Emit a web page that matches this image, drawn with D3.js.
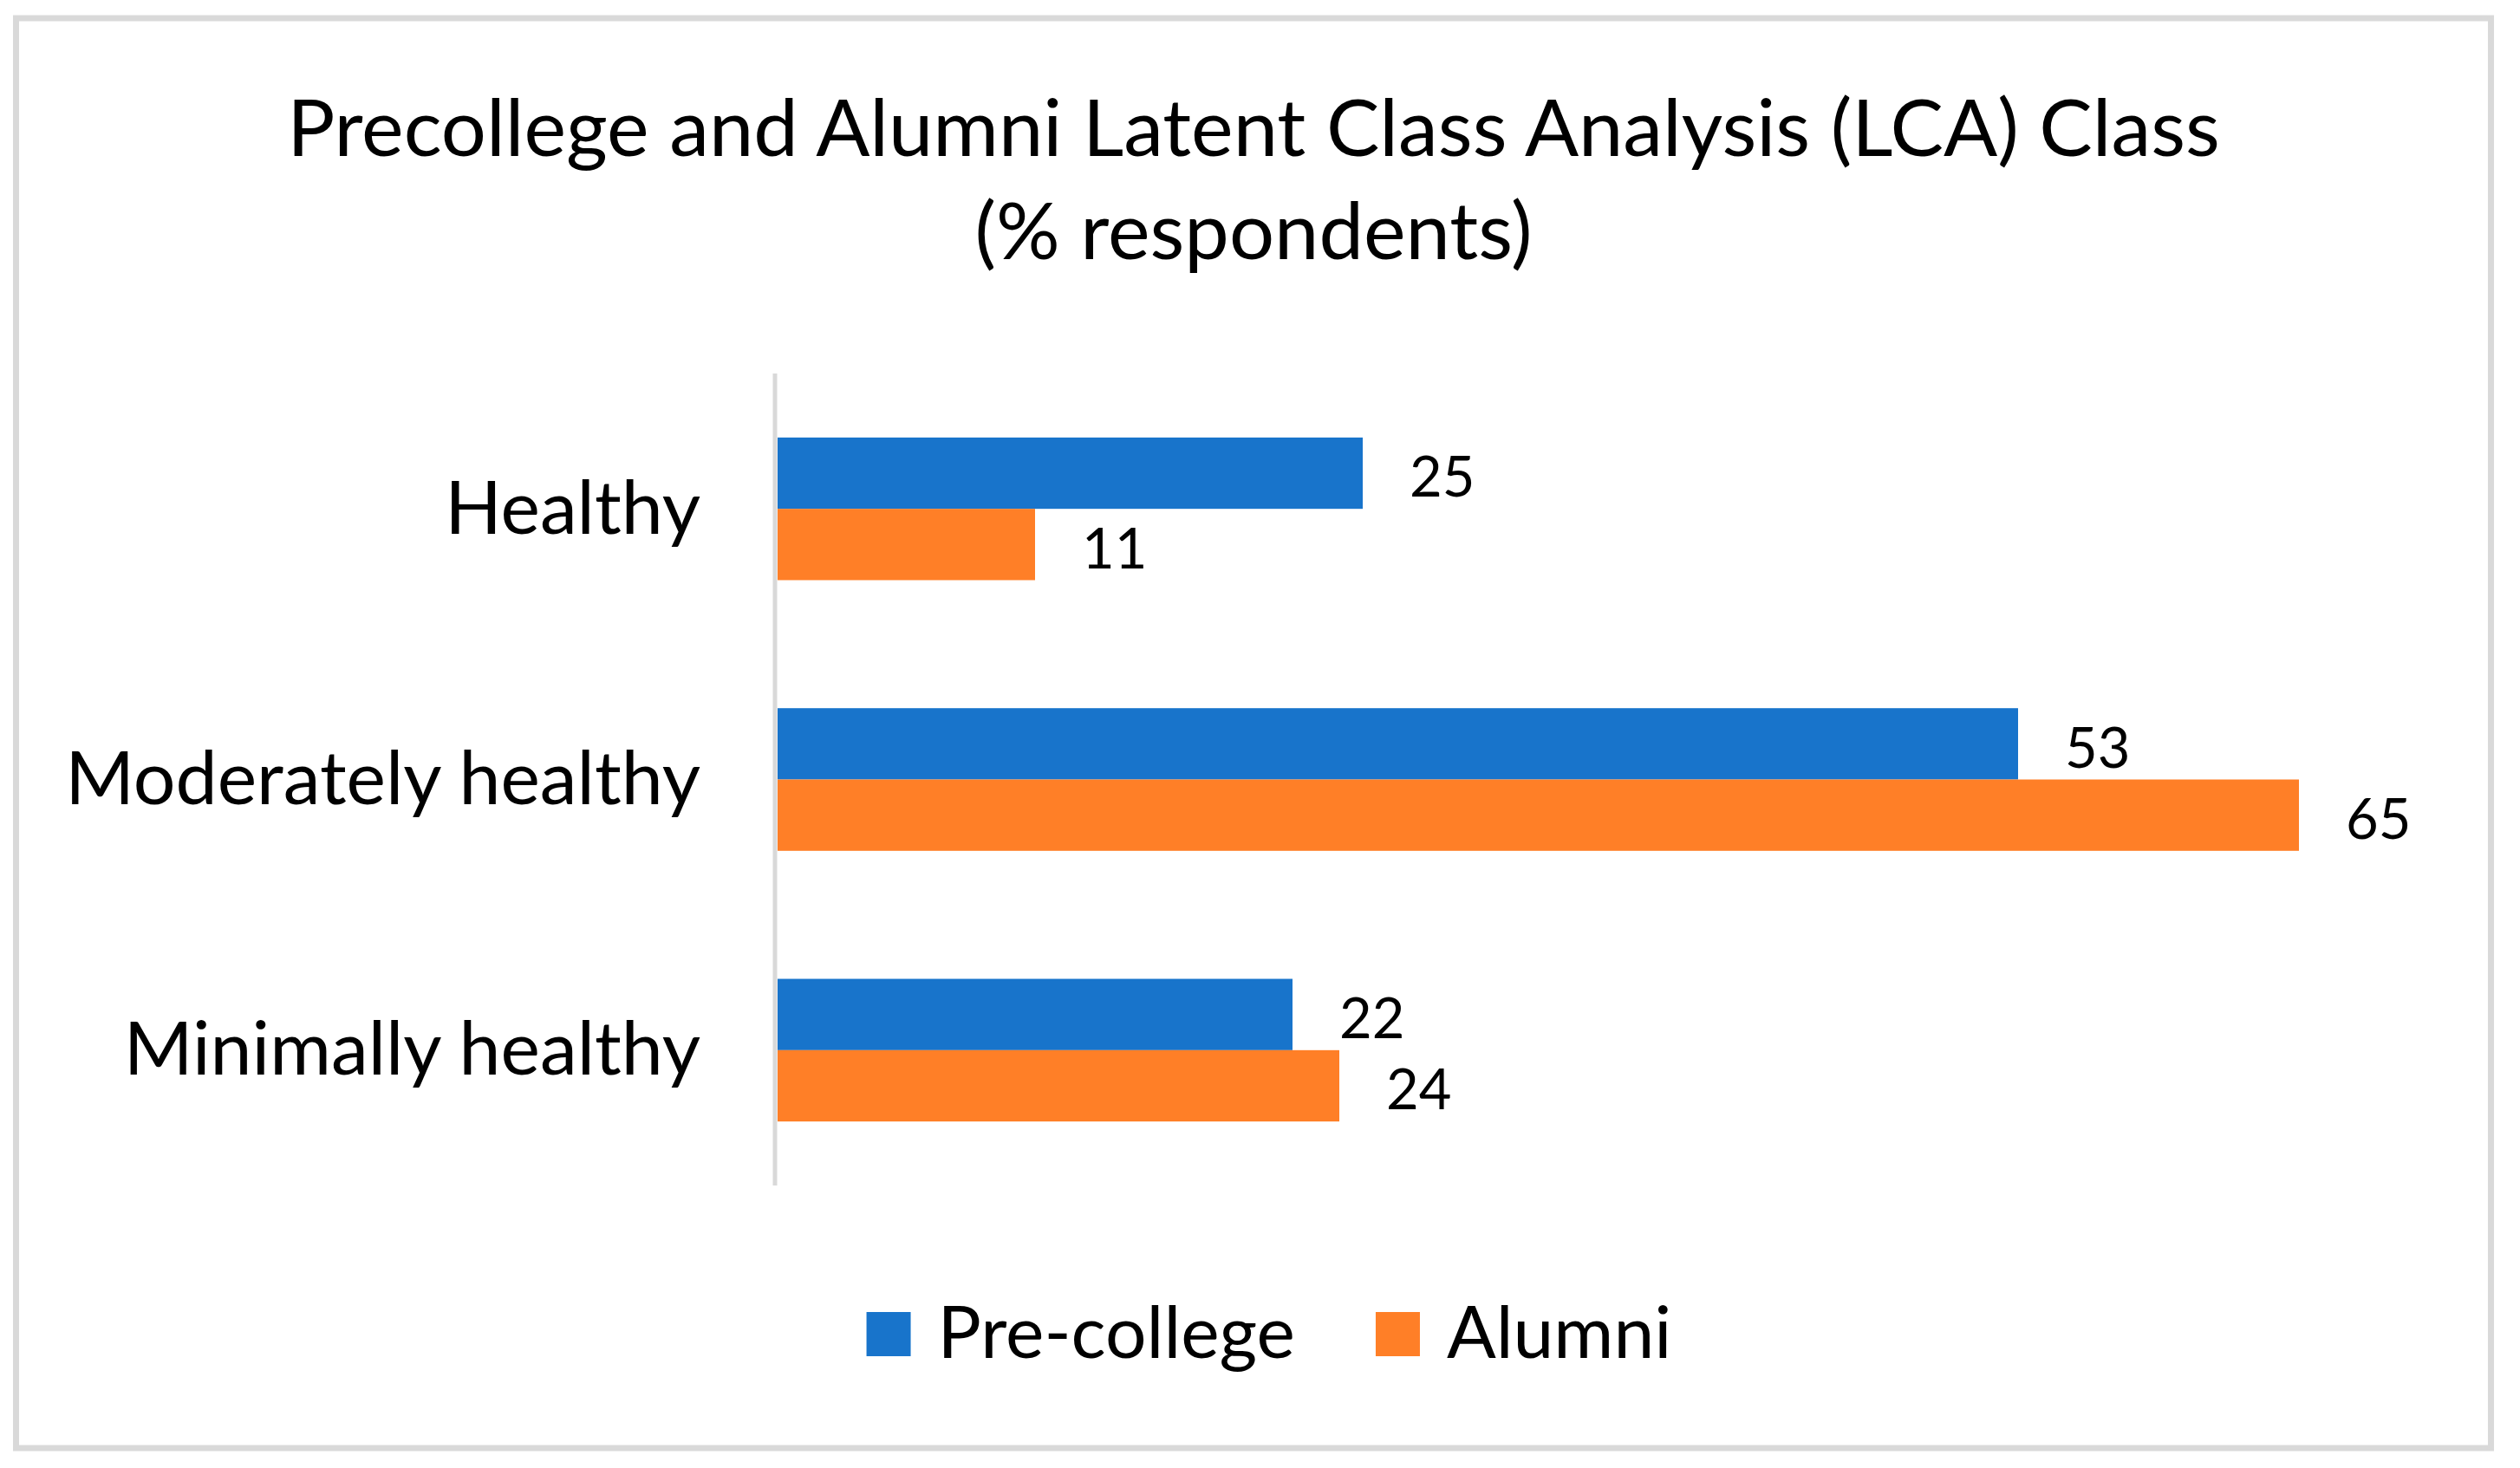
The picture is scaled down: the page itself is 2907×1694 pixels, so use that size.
<!DOCTYPE html>
<html>
<head>
<meta charset="utf-8">
<script src="https://cdn.jsdelivr.net/npm/d3@7"></script>
<style>
  html, body { margin: 0; padding: 0; background: #ffffff; }
  svg { display: block; }
  text { font-family: Lato, "Open Sans", "Noto Sans", sans-serif; fill: #000000; }
</style>
</head>
<body>
<svg id="chart"></svg>
<script>
// ---- data ----
const titleLines = ["Precollege and Alumni Latent Class Analysis (LCA) Class", "(% respondents)"];
const categories = ["Healthy", "Moderately healthy", "Minimally healthy"];
const seriesNames = ["Pre-college", "Alumni"];
const preCollege = [25, 53, 22];
const alumni = [11, 65, 24];
const seriesColors = ["#1874CB", "#FF7F27"];

// ---- layout ----
const W = 2907, H = 1694;
const svg = d3.select("#chart").attr("width", W).attr("height", H);

svg.append("rect")
  .attr("x", 18.5).attr("y", 21)
  .attr("width", 2855).attr("height", 1650)
  .attr("fill", "#ffffff")
  .attr("stroke", "#D9D9D9").attr("stroke-width", 7);

// title
const title = svg.append("text")
  .attr("text-anchor", "middle")
  .attr("font-size", 92);
titleLines.forEach((t, i) => {
  title.append("tspan").attr("x", 1446).attr("y", 180 + i * 119).text(t);
});

const table = categories.map((c, i) => ({ cat: c, values: [preCollege[i], alumni[i]] }));

const x = d3.scaleLinear().domain([0, 70]).range([897, 897 + 70 * 27]);
const y = d3.scaleBand().domain(categories).range([431, 1368])
  .paddingInner(0.473).paddingOuter(0.2365);
const ys = d3.scaleBand().domain(seriesNames).range([0, y.bandwidth()]);

const groups = svg.append("g").selectAll("g")
  .data(table).join("g")
  .attr("transform", d => `translate(0,${y(d.cat)})`);

groups.selectAll("rect")
  .data(d => d.values.map((v, j) => ({ s: seriesNames[j], v, j })))
  .join("rect")
  .attr("x", x(0))
  .attr("y", d => ys(d.s))
  .attr("width", d => x(d.v) - x(0))
  .attr("height", ys.bandwidth())
  .attr("fill", d => seriesColors[d.j]);

groups.selectAll("text.val")
  .data(d => d.values.map((v, j) => ({ s: seriesNames[j], v, j })))
  .join("text")
  .attr("class", "val")
  .attr("x", d => x(d.v) + 54)
  .attr("y", d => ys(d.s) + ys.bandwidth() / 2)
  .attr("dy", "0.42em")
  .attr("font-size", 65)
  .text(d => d.v);

// category axis
const yAxis = d3.axisLeft(y).tickSize(0).tickPadding(86);
const ag = svg.append("g").attr("transform", `translate(894,0)`).call(yAxis);
ag.select(".domain").attr("stroke", "#D9D9D9").attr("stroke-width", 5)
  .attr("d", `M0,${y.range()[0]}V${y.range()[1]}`);
ag.selectAll(".tick text")
  .attr("font-size", 86)
  .attr("font-family", "Lato, 'Open Sans', sans-serif")
  .attr("fill", "#000")
  .attr("dy", "0.33em");

// legend
const lg = svg.append("g");
const items = lg.selectAll("g").data(seriesNames).join("g");
items.append("rect")
  .attr("width", 51).attr("height", 51)
  .attr("y", 1514)
  .attr("fill", (d, i) => seriesColors[i]);
items.append("text")
  .attr("y", 1567)
  .attr("font-size", 84)
  .text(d => d);
let widths = [];
items.each(function () { widths.push(this.querySelector("text").getComputedTextLength()); });
const sqW = 51, gapT = 31, gapI = 93;
const total = widths.reduce((a, w) => a + sqW + gapT + w, 0) + gapI * (widths.length - 1);
let cx = 1464 - total / 2;
items.each(function (d, i) {
  const g = d3.select(this);
  g.select("rect").attr("x", cx);
  g.select("text").attr("x", cx + sqW + gapT);
  cx += sqW + gapT + widths[i] + gapI;
});
</script>
</body>
</html>
